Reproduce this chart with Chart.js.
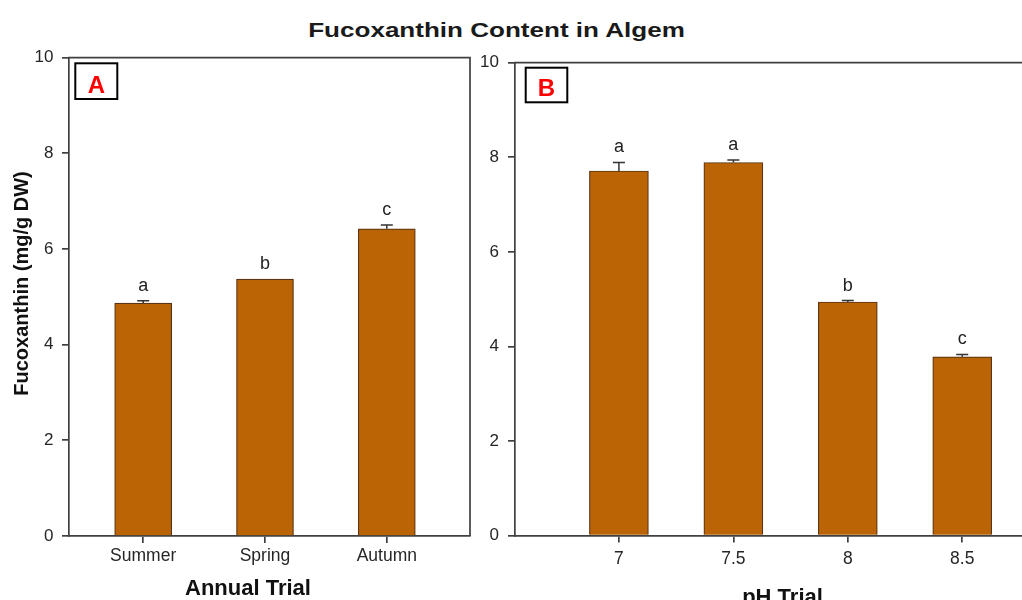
<!DOCTYPE html>
<html>
<head>
<meta charset="utf-8">
<script src="https://cdn.jsdelivr.net/npm/chart.js@4.4.1/dist/chart.umd.min.js"></script>
<style>
  html, body { margin: 0; padding: 0; background: #fff; overflow: hidden; width: 1022px; height: 600px; }
  #wrap { position: relative; width: 1022px; height: 600px; overflow: hidden; }
  #title {
    position: absolute; top: 19px; left: 0; width: 993px; text-align: center;
    font: bold 21px/21px "Liberation Sans", Arial, sans-serif; color: #1a1a1a;
    transform: scaleX(1.24); transform-origin: 496.5px 0; white-space: nowrap;
  }
  canvas { position: absolute; top: 0; }
  #cA { left: 0; }
  #cB { left: 472px; }
</style>
</head>
<body>
<div id="wrap">
  <div id="title"></div>
  <canvas id="cA" width="472" height="600"></canvas>
  <canvas id="cB" width="560" height="600"></canvas>
</div>
<script>
// ---- data ----
const chartTitle = 'Fucoxanthin Content in Algem';
const yAxisTitle = 'Fucoxanthin (mg/g DW)';
const yTicks = [0, 2, 4, 6, 8, 10];

// Panel A: annual trial
const annualLabels = ['Summer', 'Spring', 'Autumn'];
const annualValues = [4.87, 5.37, 6.42];
const annualErrors = [0.05, 0, 0.08];
const annualGroups = ['a', 'b', 'c'];

// Panel B: pH trial
const phLevels = [7, 7.5, 8, 8.5];
const phTickLabels = ['7', '7.5', '8', '8.5'];
const phValues = [7.71, 7.89, 4.94, 3.78];
const phErrors = [0.18, 0.05, 0.03, 0.05];
const phGroups = ['a', 'a', 'b', 'c'];

// ---- styles ----
const FONT = '"Liberation Sans", Arial, sans-serif';
const BAR = '#BA6406';
const EDGE = '#5a3414';
const AXIS = '#404040';
const TICK_TEXT = '#262626';

document.getElementById('title').textContent = chartTitle;

// Error bars, group letters, frame, panel tag and axis titles
const panelDecor = {
  id: 'panelDecor',
  afterDatasetsDraw(chart, args, opts) {
    const { ctx, scales } = chart;
    const meta = chart.getDatasetMeta(0);
    const ds = chart.data.datasets[0];
    ctx.save();
    meta.data.forEach((bar, i) => {
      const v = ds.data[i].y;
      const e = opts.errors[i] || 0;
      const yTop = scales.y.getPixelForValue(v + e);
      if (e > 0) {
        ctx.strokeStyle = '#333';
        ctx.lineWidth = 1.5;
        ctx.beginPath();
        ctx.moveTo(bar.x, bar.y);
        ctx.lineTo(bar.x, yTop);
        ctx.moveTo(bar.x - 6, yTop);
        ctx.lineTo(bar.x + 6, yTop);
        ctx.stroke();
      }
      ctx.fillStyle = '#222';
      ctx.font = '18px ' + FONT;
      ctx.textAlign = 'center';
      ctx.textBaseline = 'alphabetic';
      ctx.fillText(opts.groups[i], bar.x, yTop - 10);
    });
    ctx.restore();
  },
  afterDraw(chart, args, opts) {
    const { ctx, chartArea: a } = chart;
    ctx.save();
    // top and right frame lines
    ctx.strokeStyle = AXIS;
    ctx.lineWidth = 1.7;
    ctx.beginPath();
    ctx.moveTo(a.left - 0.85, a.top);
    ctx.lineTo(a.right, a.top);
    ctx.lineTo(a.right, a.bottom);
    ctx.stroke();

    // panel tag
    const t = opts.tag;
    const bx = a.left + t.dx, by = a.top + t.dy;
    ctx.strokeStyle = '#000';
    ctx.lineWidth = 2;
    ctx.strokeRect(bx, by, t.w, t.h);
    ctx.fillStyle = '#ff0000';
    ctx.font = 'bold 24px ' + FONT;
    ctx.textAlign = 'center';
    ctx.textBaseline = 'alphabetic';
    ctx.fillText(t.text, bx + t.w / 2, by + t.h - 6.5);

    // x axis title
    ctx.fillStyle = '#111';
    ctx.font = 'bold 22px ' + FONT;
    ctx.fillText(opts.xTitle.text, opts.xTitle.x, opts.xTitle.y);

    // y axis title
    if (opts.yTitle) {
      ctx.translate(opts.yTitle.x, opts.yTitle.y);
      ctx.rotate(-Math.PI / 2);
      ctx.font = 'bold 20px ' + FONT;
      ctx.textBaseline = 'middle';
      ctx.fillText(opts.yTitle.text, 0, 0);
    }
    ctx.restore();
  }
};

function axisStyle() {
  return {
    grid: { display: true, drawOnChartArea: false, drawTicks: true, tickLength: 7, color: AXIS, lineWidth: 1.7, offset: false },
    border: { display: true, color: AXIS, width: 1.7 }
  };
}

function yScale(width, pad) {
  return Object.assign({
    type: 'linear', min: 0, max: 10,
    afterBuildTicks: s => { s.ticks = yTicks.map(v => ({ value: v })); },
    afterFit: s => { s.width = width; },
    ticks: { font: { size: 17, family: FONT }, color: TICK_TEXT, padding: pad, callback: v => String(v) }
  }, axisStyle());
}

// Panel A
new Chart(document.getElementById('cA'), {
  type: 'bar',
  data: {
    datasets: [{
      data: annualLabels.map((_, i) => ({ x: i, y: annualValues[i] })),
      backgroundColor: BAR, borderColor: EDGE, borderWidth: 1.2, barThickness: 57
    }]
  },
  options: {
    responsive: false, animation: false, devicePixelRatio: 1,
    layout: { padding: { top: 57.6, right: 2, bottom: 0, left: 0 } },
    plugins: {
      legend: { display: false }, tooltip: { enabled: false },
      panelDecor: {
        errors: annualErrors, groups: annualGroups,
        tag: { text: 'A', dx: 6.3, dy: 5.7, w: 42, h: 35.7 },
        xTitle: { text: 'Annual Trial', x: 248, y: 595 },
        yTitle: { text: yAxisTitle, x: 22, y: 283.5 }
      }
    },
    scales: {
      x: Object.assign({
        type: 'linear', min: -0.609, max: 2.683, offset: false,
        afterBuildTicks: s => { s.ticks = annualLabels.map((_, i) => ({ value: i })); },
        afterFit: s => { s.height = 64; },
        ticks: { font: { size: 17.5, family: FONT }, color: TICK_TEXT, padding: 3, maxRotation: 0, autoSkip: false,
                 callback: (v, i) => annualLabels[i] }
      }, axisStyle()),
      y: yScale(69, 8.5)
    }
  },
  plugins: [panelDecor]
});

// Panel B
new Chart(document.getElementById('cB'), {
  type: 'bar',
  data: {
    datasets: [{
      data: phLevels.map((p, i) => ({ x: p, y: phValues[i] })),
      backgroundColor: BAR, borderColor: EDGE, borderWidth: 1.2, barThickness: 59
    }]
  },
  options: {
    responsive: false, animation: false, devicePixelRatio: 1,
    layout: { padding: { top: 62.7, right: 2, bottom: 0, left: 0 } },
    plugins: {
      legend: { display: false }, tooltip: { enabled: false },
      panelDecor: {
        errors: phErrors, groups: phGroups,
        tag: { text: 'B', dx: 10.7, dy: 5, w: 41.6, h: 34.6 },
        xTitle: { text: 'pH Trial', x: 310.5, y: 604 }
      }
    },
    scales: {
      x: Object.assign({
        type: 'linear', min: 6.546, max: 8.796, offset: false,
        afterBuildTicks: s => { s.ticks = phLevels.map(v => ({ value: v })); },
        afterFit: s => { s.height = 64.4; },
        ticks: { font: { size: 17.5, family: FONT }, color: TICK_TEXT, padding: 6, maxRotation: 0, autoSkip: false,
                 callback: (v, i) => phTickLabels[i] }
      }, axisStyle()),
      y: yScale(43, 9)
    }
  },
  plugins: [panelDecor]
});
</script>
</body>
</html>
